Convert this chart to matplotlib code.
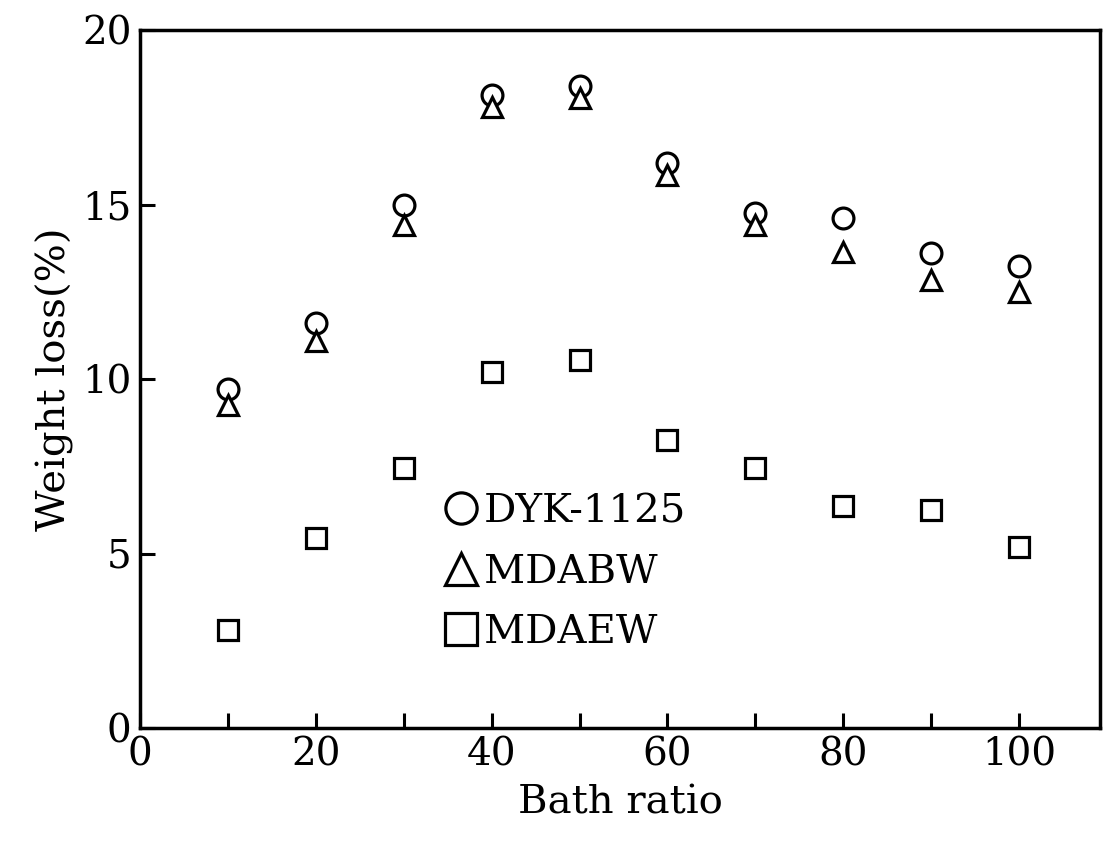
import numpy as np
import matplotlib.pyplot as plt

plt.rcParams['font.family'] = ['DejaVu Serif']

# ---- data ----
bath_ratio = [10, 20, 30, 40, 50, 60, 70, 80, 90, 100]
dyk_1125 = [9.7, 11.6, 15.0, 18.15, 18.4, 16.2, 14.75, 14.6, 13.6, 13.25]
mdabw = [9.25, 11.1, 14.4, 17.8, 18.05, 15.85, 14.4, 13.65, 12.85, 12.5]
mdaew = [2.8, 5.45, 7.45, 10.2, 10.55, 8.25, 7.45, 6.35, 6.25, 5.2]

xticks = [0, 20, 40, 60, 80, 100]
yticks = [0, 5, 10, 15, 20]

fig = plt.figure(figsize=(11.1, 8.56), dpi=100)
ax = fig.add_axes([140 / 1110, 1 - 728 / 856, 960 / 1110, 698 / 856])

mk = dict(ls="none", mfc="white", mec="black", mew=2.3, ms=15)
ax.plot(bath_ratio, dyk_1125, "o", label="DYK-1125", **mk)
ax.plot(bath_ratio, mdabw, "^", label="MDABW", **mk)
ax.plot(bath_ratio, mdaew, "s", label="MDAEW", **mk)

ax.set_xlim(0, 109.2)
ax.set_ylim(0, 20)
ax.set_xticks(np.arange(0, 101, 10))
ax.set_xticklabels([str(v) if v in xticks else "" for v in range(0, 101, 10)])
ax.set_yticks(yticks)

for s in ax.spines.values():
    s.set_linewidth(2.5)
ax.tick_params(direction="in", length=11, width=2.2, labelsize=28, pad=6,
               top=False, right=False)

ax.set_xlabel("Bath ratio", fontsize=29, labelpad=8)
ax.set_ylabel("Weight loss(%)", fontsize=29, labelpad=6)

ax.legend(loc="upper left", bbox_to_anchor=(0.297, 0.365), frameon=False,
          fontsize=29, markerscale=1.5, handlelength=0.8, handletextpad=0.15,
          labelspacing=0.58, borderpad=0)

fig.savefig("out.png", dpi=100)
